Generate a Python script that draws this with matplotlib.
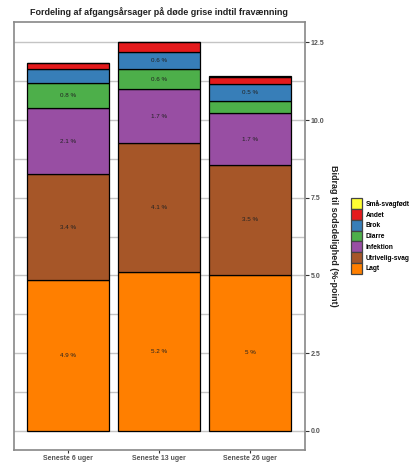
import matplotlib
matplotlib.use("Agg")
import matplotlib.pyplot as plt
from matplotlib.patches import Patch
import numpy as np

# data
periods = ["Seneste 6 uger", "Seneste 13 uger", "Seneste 26 uger"]
causes = ["Lagt", "Utrivelig-svag", "Infektion", "Diarre", "Brok", "Andet", "Små-svagfødt"]
lagt = [4.85, 5.12, 5.02]
utrivelig = [3.40, 4.14, 3.53]
infektion = [2.14, 1.74, 1.67]
diarre = [0.81, 0.64, 0.40]
brok = [0.44, 0.56, 0.53]
andet = [0.20, 0.31, 0.25]
smaa = [0.0, 0.0, 0.03]
lbl_lagt = ["4.9 %", "5.2 %", "5 %"]
lbl_utrivelig = ["3.4 %", "4.1 %", "3.5 %"]
lbl_infektion = ["2.1 %", "1.7 %", "1.7 %"]
lbl_diarre = ["0.8 %", "0.6 %", ""]
lbl_brok = ["", "0.6 %", "0.5 %"]
lbl_none = ["", "", ""]
yticks = [0.0, 2.5, 5.0, 7.5, 10.0, 12.5]

series = [lagt, utrivelig, infektion, diarre, brok, andet, smaa]
labels = [lbl_lagt, lbl_utrivelig, lbl_infektion, lbl_diarre, lbl_brok, lbl_none, lbl_none]
colors = ["#FF7F00", "#A65628", "#984EA3", "#4DAF4A", "#377EB8", "#E41A1C", "#FFFF33"]

plt.rcParams["font.family"] = ["Liberation Sans", "DejaVu Sans"]
C_INK = "#333333"
C_GRID = "#c4c4c4"

fig = plt.figure(figsize=(4.16, 4.72), dpi=100)
ax = fig.add_axes([0.033, 0.047, 0.699, 0.906])

x = np.arange(1, len(periods) + 1)
bottom = np.zeros(len(periods))
for vals, lbls, col in zip(series, labels, colors):
    vals = np.asarray(vals)
    ax.bar(x, vals, width=0.9, bottom=bottom, color=col, edgecolor="black",
           linewidth=0.9, zorder=3)
    for xi, b, v, t in zip(x, bottom, vals, lbls):
        if t:
            ax.text(xi, b + v / 2, t, ha="center", va="center", fontsize=4.5,
                    color="#222222", zorder=4)
    bottom += vals

ax.set_xlim(0.4, 3.6)
ax.set_ylim(-0.61, 13.15)
ax.set_xticks(x)
ax.set_xticklabels(periods, fontsize=5, fontweight="bold", color="#555555")
ax.yaxis.tick_right()
ax.yaxis.set_label_position("right")
ax.set_yticks(yticks)
ax.set_yticklabels([f"{t:.1f}" for t in yticks], fontsize=5, fontweight="bold", color="#555555")
ax.set_yticks(np.arange(1.25, 13, 2.5), minor=True)
ax.tick_params(axis="y", which="major", length=3, width=0.8, color=C_INK, pad=1.5)
ax.tick_params(axis="y", which="minor", length=0)
ax.tick_params(axis="x", length=2, width=0.8, color=C_INK, pad=1.5)
ax.grid(axis="y", which="both", color=C_GRID, lw=1.0, zorder=0)
for s in ax.spines.values():
    s.set_color("#888888")
    s.set_linewidth(1.2)

ax.set_ylabel("Bidrag til sodsdelighed (%-point)", rotation=270, fontsize=6.5,
              fontweight="bold", color="#222222", labelpad=10)
ax.set_title("Fordeling af afgangsårsager på døde grise indtil fravænning",
             fontsize=6.5, fontweight="bold", color="#222222", pad=5)

handles = [Patch(facecolor=c, edgecolor="#444444", linewidth=0.9, label=n)
           for n, c in zip(causes, colors)][::-1]
fig.legend(handles=handles, loc="center left", bbox_to_anchor=(0.836, 0.5),
           frameon=False, handlelength=1.65, handleheight=2.1,
           handletextpad=0.5, labelspacing=0.0, borderpad=0,
           prop={"size": 4.8, "weight": "bold"})

fig.savefig("out.png", dpi=100)
